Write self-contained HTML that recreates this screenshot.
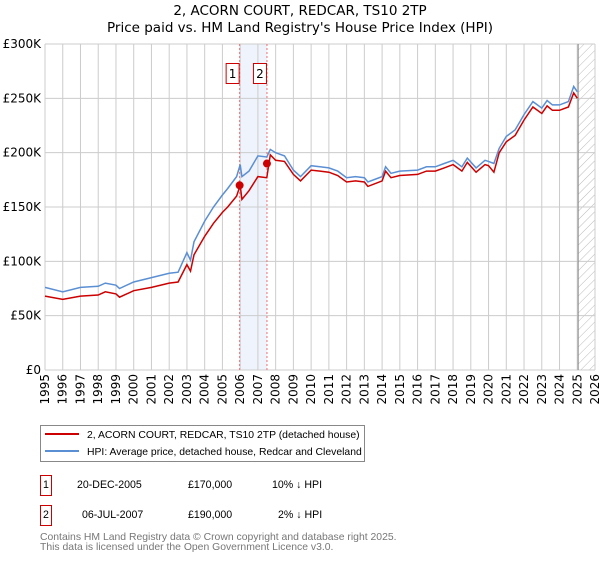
<!DOCTYPE html>
<html><head><meta charset="utf-8"><style>
body{margin:0;background:#fff;font-family:"Liberation Sans","DejaVu Sans",sans-serif;}
svg text{font-family:"DejaVu Sans","Liberation Sans",sans-serif;}
svg .lib{font-family:"Liberation Sans","DejaVu Sans",sans-serif;}
</style></head><body>
<svg id="chart" width="600" height="560" viewBox="0 0 600 560" xmlns="http://www.w3.org/2000/svg">
<defs><pattern id="hatch" patternUnits="userSpaceOnUse" width="6" height="6" patternTransform="rotate(45)"><line x1="0" y1="0" x2="0" y2="6" stroke="#bbb" stroke-width="1"/></pattern></defs>
<text x="300" y="15" text-anchor="middle" font-size="13.5">2, ACORN COURT, REDCAR, TS10 2TP</text>
<text x="300" y="32" text-anchor="middle" font-size="13.5">Price paid vs. HM Land Registry's House Price Index (HPI)</text>
<g id="grid"></g>
<g id="marks"></g>
<g id="axes"></g>
<g>
<rect x="40.5" y="425.5" width="324" height="36" fill="#fff" stroke="#888"/>
<line x1="45" y1="434" x2="79" y2="434" stroke="#cc0000" stroke-width="2"/>
<text class="lib" x="87" y="438" font-size="10.4">2, ACORN COURT, REDCAR, TS10 2TP (detached house)</text>
<line x1="45" y1="451" x2="79" y2="451" stroke="#5b8fd4" stroke-width="2"/>
<text class="lib" x="87" y="455" font-size="10.4">HPI: Average price, detached house, Redcar and Cleveland</text>
</g>
<g font-size="10.6" class="lib">
<rect x="40.5" y="475.5" width="11" height="20" fill="#fff" stroke="#cc0000"/>
<text class="lib" x="46" y="488" text-anchor="middle">1</text>
<text class="lib" x="77" y="488">20-DEC-2005</text>
<text class="lib" x="188" y="488">£170,000</text>
<text class="lib" x="272" y="488">10% ↓ HPI</text>
</g>
<g font-size="10.6" class="lib">
<rect x="40.5" y="505.5" width="11" height="20" fill="#fff" stroke="#cc0000"/>
<text class="lib" x="46" y="518" text-anchor="middle">2</text>
<text class="lib" x="82" y="518">06-JUL-2007</text>
<text class="lib" x="188" y="518">£190,000</text>
<text class="lib" x="278" y="518">2% ↓ HPI</text>
</g>
<text class="lib" x="40" y="540" font-size="10.4" fill="#777">Contains HM Land Registry data © Crown copyright and database right 2025.</text>
<text class="lib" x="40" y="550" font-size="10.4" fill="#777">This data is licensed under the Open Government Licence v3.0.</text>
</svg>
<script>
const dates=[1995,1996,1997,1998,1998.4,1999,1999.2,2000,2001,2002,2002.5,2003,2003.2,2003.4,2004,2004.5,2005,2005.3,2005.8,2006,2006.1,2006.5,2007,2007.5,2007.7,2008,2008.5,2009,2009.4,2010,2010.5,2011,2011.5,2012,2012.5,2013,2013.2,2014,2014.2,2014.5,2015,2016,2016.5,2017,2017.5,2018,2018.5,2018.8,2019.3,2019.8,2020,2020.3,2020.6,2021,2021.5,2022,2022.5,2023,2023.3,2023.6,2024,2024.5,2024.8,2025];
const hpiValues=[76,72,76,77,80,78,75,81,85,89,90,108,101,118,137,150,161,167,178,189,178,183,197,196,203,200,197,184,178,188,187,186,183,177,178,177,173,178,187,181,183,184,187,187,190,193,187,195,186,193,192,190,204,215,221,235,247,241,248,244,244,247,261,256];
const propValues=[68,65,68,69,72,70,67,73,76,80,81,97,91,106,123,135,145,150,160,170,157,165,178,177,198,193,192,180,174,184,183,182,179,173,174,173,169,174,183,177,179,180,183,183,186,189,183,191,182,189,188,182,200,210,216,230,242,236,243,239,239,242,255,250];
const saleDates=[2005.97,2007.51];
const saleValues=[170,190];
const saleLabels=["1","2"];
const yTicks=[0,50,100,150,200,250,300];
const yTickLabels=["£0","£50K","£100K","£150K","£200K","£250K","£300K"];
const xYears=[1995,1996,1997,1998,1999,2000,2001,2002,2003,2004,2005,2006,2007,2008,2009,2010,2011,2012,2013,2014,2015,2016,2017,2018,2019,2020,2021,2022,2023,2024,2025,2026];

const NS="http://www.w3.org/2000/svg";
const X0=45,X1=595,Y0=370,Y1=44;
const xs=v=>X0+(v-1995)/(2026-1995)*(X1-X0);
const ys=v=>Y0-v/300*(Y0-Y1);
function mk(parent,tag,attrs){const e=document.createElementNS(NS,tag);for(const k in attrs)e.setAttribute(k,attrs[k]);parent.appendChild(e);return e;}
const grid=document.getElementById('grid'),marks=document.getElementById('marks'),axes=document.getElementById('axes');
let sh=mk(grid,'rect',{x:xs(saleDates[0]),y:Y1,width:xs(saleDates[1])-xs(saleDates[0]),height:Y0-Y1,fill:'#eef3fc'});


let ht=mk(grid,'rect',{x:xs(2025.05),y:Y1,width:X1-xs(2025.05),height:Y0-Y1,fill:'url(#hatch)'});


yTicks.forEach((t,i)=>{
  const l=mk(grid,'line',{x1:X0,x2:X1,y1:ys(t),y2:ys(t),stroke:'#ccc','stroke-width':1});
  
  
  const tx=mk(axes,'text',{x:X0-4,y:ys(t)+4,'text-anchor':'end','font-size':12});
  tx.textContent=yTickLabels[i];
  
  
});
xYears.forEach(yr=>{
  const l=mk(grid,'line',{x1:xs(yr),x2:xs(yr),y1:Y1,y2:Y0,stroke:'#ccc','stroke-width':1});
  
  
  const tx=mk(axes,'text',{x:0,y:0,'text-anchor':'end','font-size':12,transform:`translate(${xs(yr)+4},${Y0+4}) rotate(-90)`});
  tx.textContent=yr;
  
  
});
const vl=mk(grid,'line',{x1:xs(2025.05),x2:xs(2025.05),y1:Y1,y2:Y0,stroke:'#888','stroke-width':1});


saleDates.forEach((d,i)=>{
  const l=mk(grid,'line',{x1:xs(d),x2:xs(d),y1:Y1,y2:Y0,stroke:'#f07070','stroke-width':1,'stroke-dasharray':'2,2'});
  
  
  const g=mk(marks,'g',{});
  
  
  mk(g,'rect',{x:xs(d)-13.5,y:63.5,width:13,height:20,fill:'#fff',stroke:'#cc0000'});
  const t=mk(g,'text',{x:xs(d)-7,y:78,'text-anchor':'middle','font-size':12});
  t.textContent=saleLabels[i];
});
function path(vals,color,name){
  const d=dates.map((x,i)=>(i?'L':'M')+xs(x).toFixed(1)+','+ys(vals[i]).toFixed(1)).join('');
  const p=mk(marks,'path',{d,fill:'none',stroke:color,'stroke-width':1.5});
  
  
}
path(hpiValues,'#5b8fd4','hpi-line');
path(propValues,'#cc0000','property-line');
saleDates.forEach((d,i)=>{
  const c=mk(marks,'circle',{cx:xs(d),cy:ys(saleValues[i]),r:4,fill:'#cc0000'});
  
  
});
</script>
</body></html>
